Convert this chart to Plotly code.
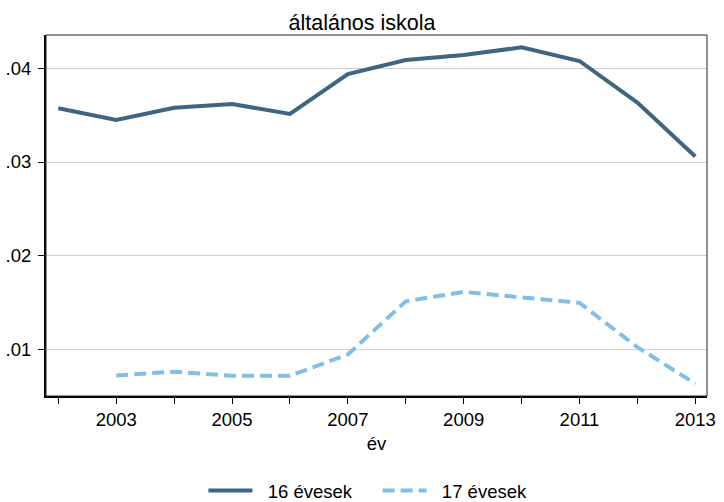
import plotly.graph_objects as go

years = list(range(2002, 2014))
ev16 = [0.03575, 0.0345, 0.0358, 0.0362, 0.03514, 0.0394, 0.0409, 0.04144, 0.04226, 0.0408, 0.03635, 0.03059]
years17 = list(range(2003, 2014))
ev17 = [0.00718, 0.00758, 0.00715, 0.00715, 0.00942, 0.01511, 0.01611, 0.01554, 0.01494, 0.0102, 0.0063]
ytick_vals = [0.01, 0.02, 0.03, 0.04]
ytick_text = [".01", ".02", ".03", ".04"]
xtick_vals = [2003, 2005, 2007, 2009, 2011, 2013]
series_names = ["16 évesek", "17 évesek"]

FONT = "Liberation Sans, Arial, sans-serif"
NB = "\u00a0"

fig = go.Figure()
fig.add_trace(go.Scatter(x=years, y=ev16, mode="lines", name=NB * 2 + series_names[0] + NB * 4,
                         line=dict(color="#3f6680", width=4)))
fig.add_trace(go.Scatter(x=years17, y=ev17, mode="lines", name=NB * 2 + series_names[1],
                         line=dict(color="#82bfe8", width=4, dash="12px,6px")))

fig.update_layout(
    width=724, height=502,
    margin=dict(l=46, r=17, t=35, b=106, autoexpand=False),
    paper_bgcolor="white", plot_bgcolor="white",
    font=dict(family=FONT, size=18.5, color="black"),
    title=dict(text="általános iskola", x=0.5, xanchor="center", y=0.955, yanchor="middle",
               font=dict(size=21.5, family=FONT, color="black")),
    showlegend=True,
    legend=dict(orientation="h", x=0.487, xanchor="center", y=-0.263, yanchor="middle",
                font=dict(size=18.5, family=FONT), itemwidth=44, tracegroupgap=0),
)
fig.update_xaxes(range=[2001.787, 2013.202], tickmode="array", tickvals=xtick_vals,
                 ticks="outside", ticklen=6, tickwidth=1, tickcolor="black", automargin=False,
                 minor=dict(tickmode="array", tickvals=years, ticks="outside", ticklen=6, tickcolor="black", showgrid=False),
                 showgrid=False, showline=True, linecolor="black", linewidth=2, mirror=False,
                 zeroline=False, title=dict(text="év", font=dict(size=18.5, family=FONT), standoff=8))
fig.update_yaxes(range=[0.00498, 0.04358], tickmode="array", tickvals=ytick_vals, ticktext=ytick_text,
                 ticks="outside", ticklen=6, tickwidth=1, tickcolor="black", automargin=False,
                 ticklabelstandoff=3,
                 showgrid=True, gridcolor="#d0d0d0", gridwidth=1,
                 showline=True, linecolor="black", linewidth=2, zeroline=False)
fig.add_shape(type="rect", xref="paper", yref="paper", x0=0, y0=0, x1=1, y1=1,
              line=dict(color="#222222", width=1))

fig.write_html("out.html", config={"displayModeBar": False},
               post_script="document.body.style.margin='0';document.body.style.overflow='hidden';")
